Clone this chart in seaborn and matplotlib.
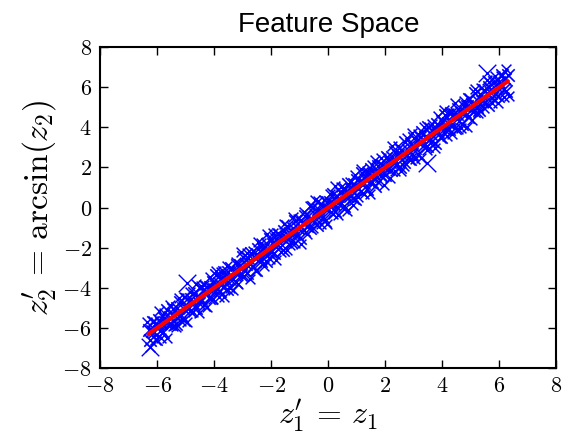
import matplotlib
matplotlib.use("Agg")
import matplotlib.pyplot as plt
import seaborn as sns
import pandas as pd

# ---- data ----
# core of the cloud
z1 = [-6.30, -6.25, -6.20, -6.15, -6.10, -6.05, -6.00, -5.95, -5.90, -5.85,
      -5.80, -5.75, -5.70, -5.65, -5.60, -5.55, -5.50, -5.45, -5.40, -5.35,
      -5.30, -5.25, -5.20, -5.15, -5.10, -5.05, -5.00, -4.95, -4.90, -4.85,
      -4.80, -4.75, -4.70, -4.65, -4.60, -4.55, -4.50, -4.45, -4.40, -4.35,
      -4.30, -4.25, -4.20, -4.15, -4.10, -4.05, -4.00, -3.95, -3.90, -3.85,
      -3.80, -3.75, -3.70, -3.65, -3.60, -3.55, -3.50, -3.45, -3.40, -3.35,
      -3.30, -3.25, -3.20, -3.15, -3.10, -3.05, -3.00, -2.95, -2.90, -2.85,
      -2.80, -2.75, -2.70, -2.65, -2.60, -2.55, -2.50, -2.45, -2.40, -2.35,
      -2.30, -2.25, -2.20, -2.15, -2.10, -2.05, -2.00, -1.95, -1.90, -1.85,
      -1.80, -1.75, -1.70, -1.65, -1.60, -1.55, -1.50, -1.45, -1.40, -1.35,
      -1.30, -1.25, -1.20, -1.15, -1.10, -1.05, -1.00, -0.95, -0.90, -0.85,
      -0.80, -0.75, -0.70, -0.65, -0.60, -0.55, -0.50, -0.45, -0.40, -0.35,
      -0.30, -0.25, -0.20, -0.15, -0.10, -0.05, 0.00, 0.05, 0.10, 0.15,
      0.20, 0.25, 0.30, 0.35, 0.40, 0.45, 0.50, 0.55, 0.60, 0.65,
      0.70, 0.75, 0.80, 0.85, 0.90, 0.95, 1.00, 1.05, 1.10, 1.15,
      1.20, 1.25, 1.30, 1.35, 1.40, 1.45, 1.50, 1.55, 1.60, 1.65,
      1.70, 1.75, 1.80, 1.85, 1.90, 1.95, 2.00, 2.05, 2.10, 2.15,
      2.20, 2.25, 2.30, 2.35, 2.40, 2.45, 2.50, 2.55, 2.60, 2.65,
      2.70, 2.75, 2.80, 2.85, 2.90, 2.95, 3.00, 3.05, 3.10, 3.15,
      3.20, 3.25, 3.30, 3.35, 3.40, 3.45, 3.50, 3.55, 3.60, 3.65,
      3.70, 3.75, 3.80, 3.85, 3.90, 3.95, 4.00, 4.05, 4.10, 4.15,
      4.20, 4.25, 4.30, 4.35, 4.40, 4.45, 4.50, 4.55, 4.60, 4.65,
      4.70, 4.75, 4.80, 4.85, 4.90, 4.95, 5.00, 5.05, 5.10, 5.15,
      5.20, 5.25, 5.30, 5.35, 5.40, 5.45, 5.50, 5.55, 5.60, 5.65,
      5.70, 5.75, 5.80, 5.85, 5.90, 5.95, 6.00, 6.05, 6.10, 6.15,
      6.20, 6.25, 6.30]

z2 = [-6.09, -6.59, -6.15, -5.73, -6.22, -6.56, -5.82, -5.62, -6.17, -5.77,
      -6.20, -5.49, -5.75, -5.10, -5.79, -5.44, -5.81, -5.08, -5.38, -5.81,
      -5.01, -5.39, -4.72, -5.38, -5.03, -5.63, -4.84, -4.56, -4.99, -5.18,
      -4.56, -4.77, -4.26, -5.02, -4.47, -4.76, -3.99, -4.56, -4.09, -4.84,
      -4.24, -3.98, -4.49, -3.96, -4.53, -3.70, -4.07, -3.37, -4.06, -3.75,
      -4.16, -3.53, -3.95, -3.19, -3.59, -4.08, -3.20, -3.58, -2.99, -3.55,
      -3.15, -3.69, -2.86, -3.19, -2.85, -3.35, -2.48, -3.12, -2.81, -3.24,
      -2.52, -2.83, -2.25, -2.91, -2.48, -3.10, -2.30, -2.07, -2.55, -2.67,
      -2.07, -2.22, -2.67, -1.83, -2.20, -1.56, -2.22, -1.81, -2.25, -1.59,
      -1.86, -1.32, -1.98, -1.48, -2.10, -1.19, -1.51, -0.91, -1.58, -1.27,
      -1.71, -1.01, -1.32, -0.68, -1.34, -1.01, -1.52, -0.62, -0.79, -1.14,
      -0.40, -0.91, -0.43, -1.03, -0.54, 0.01, -0.71, -0.32, -0.85, -0.05,
      -0.33, 0.19, -0.47, 0.04, -0.66, 0.30, -0.09, 0.27, -0.24, 0.65,
      0.20, -0.17, 0.58, 0.21, 0.79, 0.21, 0.66, 0.07, 0.92, 0.59,
      1.16, 0.56, 0.90, 0.48, 1.15, 0.42, 1.37, 0.94, 1.31, 0.84,
      1.73, 1.21, 1.44, 0.91, 1.69, 1.28, 1.92, 1.29, 1.67, 1.08,
      1.88, 2.09, 1.67, 1.55, 2.13, 2.00, 1.60, 2.53, 1.90, 2.27,
      1.87, 2.52, 2.22, 2.76, 2.17, 2.61, 2.00, 2.86, 2.62, 2.29,
      3.27, 2.60, 2.89, 2.42, 3.16, 2.67, 3.45, 2.95, 3.30, 2.68,
      3.54, 3.23, 3.77, 3.10, 3.54, 3.07, 4.02, 3.37, 3.66, 3.33,
      3.94, 3.21, 4.16, 3.78, 4.08, 3.54, 4.29, 3.93, 4.60, 3.93,
      4.23, 3.90, 4.73, 4.19, 4.65, 3.99, 4.65, 4.93, 4.33, 4.74,
      4.19, 5.07, 4.75, 5.06, 4.53, 5.39, 4.86, 5.16, 4.80, 5.70,
      5.00, 5.32, 4.88, 5.63, 5.31, 5.85, 5.26, 5.72, 5.11, 6.00,
      5.71, 5.44, 6.26, 5.67, 6.02, 5.56, 6.26, 5.99, 6.61, 5.89,
      6.39, 5.80, 6.63]

# fringe of the cloud
z1_edge = [-6.35, -6.25, -6.15, -6.05, -5.95, -5.85, -5.75, -5.65, -5.55, -5.45,
           -5.35, -5.25, -5.15, -5.05, -4.95, -4.85, -4.75, -4.65, -4.55, -4.45,
           -4.35, -4.25, -4.15, -4.05, -3.95, -3.85, -3.75, -3.65, -3.55, -3.45,
           -3.35, -3.25, -3.15, -3.05, -2.95, -2.85, -2.75, -2.65, -2.55, -2.45,
           -2.35, -2.25, -2.15, -2.05, -1.95, -1.85, -1.75, -1.65, -1.55, -1.45,
           -1.35, -1.25, -1.15, -1.05, -0.95, -0.85, -0.75, -0.65, -0.55, -0.45,
           -0.35, -0.25, -0.15, -0.05, 0.05, 0.15, 0.25, 0.35, 0.45, 0.55,
           0.65, 0.75, 0.85, 0.95, 1.05, 1.15, 1.25, 1.35, 1.45, 1.55,
           1.65, 1.75, 1.85, 1.95, 2.05, 2.15, 2.25, 2.35, 2.45, 2.55,
           2.65, 2.75, 2.85, 2.95, 3.05, 3.15, 3.25, 3.35, 3.45, 3.55,
           3.65, 3.75, 3.85, 3.95, 4.05, 4.15, 4.25, 4.35, 4.45, 4.55,
           4.65, 4.75, 4.85, 4.95, 5.05, 5.15, 5.25, 5.35, 5.45, 5.55,
           5.65, 5.75, 5.85, 5.95, 6.05, 6.15, 6.25, 6.35]

z2_edge = [-5.73, -6.96, -5.67, -6.60, -5.15, -6.51, -5.24, -6.49, -4.85, -5.92,
           -5.95, -4.50, -5.67, -4.47, -5.73, -4.19, -5.20, -3.82, -5.24, -3.91,
           -3.86, -4.98, -3.47, -4.55, -3.18, -4.46, -3.19, -4.47, -2.91, -4.02,
           -4.09, -2.72, -3.82, -2.24, -3.43, -2.25, -3.54, -2.19, -3.18, -1.73,
           -1.78, -2.90, -1.30, -2.58, -1.26, -2.61, -1.25, -2.24, -0.81, -2.13,
           -1.86, -0.46, -1.77, -0.58, -1.80, -0.20, -1.31, 0.06, -1.04, 0.38,
           0.31, -0.83, 0.37, -0.82, 0.66, -0.31, 1.05, -0.35, 1.00, -0.09,
           -0.16, 1.25, 0.13, 1.62, 0.51, 1.91, 0.65, 1.83, 0.67, 2.14,
           2.38, 1.26, 2.48, 1.12, 2.52, 1.48, 3.09, 1.83, 3.05, 1.80,
           2.09, 3.45, 2.39, 3.73, 2.41, 3.67, 2.45, 4.03, 2.87, 4.04,
           4.19, 2.96, 4.56, 3.47, 4.87, 3.58, 4.70, 3.66, 5.22, 3.93,
           3.99, 5.33, 4.01, 5.46, 4.35, 5.90, 4.72, 5.98, 4.98, 6.35,
           6.25, 5.20, 6.57, 5.21, 6.55, 5.52, 6.92, 5.54]

# a few large crosses
z1_big = [-6.25, -4.95, 3.47, 5.58]
z2_big = [-6.95, -3.76, 2.22, 6.70]

fit_x = [-6.3, 6.3]
fit_y = [-6.3, 6.3]

ticks = [-8, -6, -4, -2, 0, 2, 4, 6, 8]
tick_labels = ["$-8$", "$-6$", "$-4$", "$-2$", "$0$", "$2$", "$4$", "$6$", "$8$"]

title = "Feature Space"
xlabel = r"$z_1' \,=\, z_1$"
ylabel = r"$z_2' \,=\, \arcsin(z_2)$"

# ---- plotting ----
sns.set_style("white")
plt.rcParams["mathtext.fontset"] = "cm"
plt.rcParams["font.family"] = ["Liberation Sans", "DejaVu Sans"]
plt.rcParams["text.color"] = "black"
plt.rcParams["axes.labelcolor"] = "black"

core = pd.DataFrame({"z1": z1, "z2": z2})
edge = pd.DataFrame({"z1": z1_edge, "z2": z2_edge})
big = pd.DataFrame({"z1": z1_big, "z2": z2_big})
fit = pd.DataFrame({"x": fit_x, "y": fit_y})

fig = plt.figure(figsize=(5.66, 4.36), dpi=100)
ax = fig.add_axes([0.177, 0.156, 0.806, 0.736])

sns.scatterplot(data=edge, x="z1", y="z2", ax=ax, marker="x", color="blue",
                s=50, linewidth=1.1, legend=False)
sns.scatterplot(data=core, x="z1", y="z2", ax=ax, marker="x", color="blue",
                s=80, linewidth=1.2, legend=False)
sns.scatterplot(data=big, x="z1", y="z2", ax=ax, marker="x", color="blue",
                s=160, linewidth=1.0, legend=False)
sns.lineplot(data=fit, x="x", y="y", ax=ax, color="red", linewidth=3,
             legend=False)

ax.set_xlim(-8, 8)
ax.set_ylim(-8, 8)
ax.set_xticks(ticks)
ax.set_xticklabels(tick_labels, fontsize=16)
ax.set_yticks(ticks)
ax.set_yticklabels(tick_labels, fontsize=16)
ax.tick_params(direction="in", length=6, width=1, top=True, right=True,
               bottom=True, left=True, pad=6, colors="black")
for sp in ax.spines.values():
    sp.set_linewidth(1.5)
    sp.set_color("black")

ax.set_title(title, fontsize=20, pad=11, color="black")
ax.set_xlabel(xlabel, fontsize=23, labelpad=0, color="black")
ax.set_ylabel(ylabel, fontsize=24, labelpad=2, color="black")

fig.savefig("out.png", dpi=100)
